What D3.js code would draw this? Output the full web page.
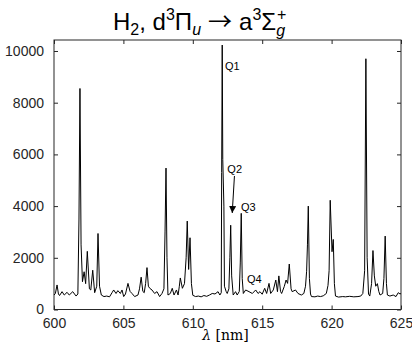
<!DOCTYPE html>
<html>
<head>
<meta charset="utf-8">
<script src="https://cdn.jsdelivr.net/npm/d3@7"></script>
<style>
  body { margin: 0; background: #fff; }
  svg { font-family: "Liberation Sans", Arial, sans-serif; }
</style>
</head>
<body>
<div id="chart"></div>
<script>
// spectrum: wavelength [nm] and intensity
const lambda = [
  600.00, 600.10, 600.22, 600.32, 600.40, 600.58, 600.74, 600.94, 601.10, 601.35,
  601.59, 601.72, 601.80, 601.87, 601.95, 602.05, 602.17, 602.28, 602.40, 602.55,
  602.65, 602.79, 602.93, 603.08, 603.17, 603.28, 603.41, 603.60, 603.80, 604.00,
  604.18, 604.30, 604.47, 604.60, 604.78, 604.90, 605.02, 605.15, 605.33, 605.48,
  605.62, 605.81, 606.05, 606.16, 606.28, 606.40, 606.50, 606.60, 606.70, 606.80,
  606.90, 607.06, 607.25, 607.42, 607.61, 607.78, 607.92, 608.00, 608.07, 608.14,
  608.21, 608.38, 608.52, 608.65, 608.82, 608.94, 609.03, 609.10, 609.25, 609.40,
  609.52, 609.60, 609.70, 609.80, 609.90, 610.00, 610.20, 610.40, 610.60, 610.80,
  611.00, 611.20, 611.40, 611.60, 611.82, 611.95, 612.05, 612.08, 612.12, 612.16,
  612.24, 612.28, 612.40, 612.48, 612.60, 612.67, 612.73, 612.80, 612.91, 613.08,
  613.20, 613.35, 613.42, 613.49, 613.56, 613.64, 613.81, 614.05, 614.29, 614.53,
  614.70, 614.84, 615.00, 615.18, 615.32, 615.49, 615.61, 615.80, 615.98, 616.10,
  616.20, 616.32, 616.40, 616.59, 616.72, 616.83, 616.95, 617.08, 617.16, 617.40,
  617.58, 617.82, 618.00, 618.12, 618.20, 618.26, 618.32, 618.40, 618.48, 618.55,
  618.80, 619.00, 619.20, 619.40, 619.62, 619.74, 619.82, 619.90, 620.03, 620.12,
  620.20, 620.28, 620.50, 620.80, 621.00, 621.30, 621.60, 621.90, 622.10, 622.25,
  622.38, 622.47, 622.56, 622.66, 622.75, 622.88, 622.98, 623.08, 623.18, 623.30,
  623.40, 623.49, 623.68, 623.77, 623.86, 623.95, 624.02, 624.20, 624.44, 624.64,
  624.80, 624.93, 625.00
];
const intensity = [
  560, 620, 950, 600, 540, 690, 560, 665, 560, 690,
  520, 600, 3500, 8550, 2500, 1075, 1460, 1000, 2250, 800,
  755, 1520, 650, 900, 2940, 900, 560, 500, 520, 490,
  650, 755, 620, 730, 620, 755, 500, 600, 1010, 700,
  620, 500, 560, 800, 1250, 700, 650, 1000, 1620, 900,
  820, 755, 620, 690, 500, 620, 800, 3000, 5470, 2000,
  560, 620, 820, 560, 755, 560, 900, 1220, 820, 1000,
  2000, 3420, 1550, 2775, 1000, 550, 500, 520, 490, 540,
  510, 560, 620, 600, 690, 560, 650, 5300, 10230, 5800,
  4000, 900, 700, 620, 800, 2000, 3260, 1300, 560, 690,
  560, 700, 1800, 3720, 1200, 620, 755, 690, 620, 755,
  620, 690, 590, 820, 620, 1010, 620, 755, 1140, 690,
  1300, 700, 620, 890, 1140, 1010, 1760, 800, 690, 755,
  620, 560, 620, 900, 1480, 2500, 4000, 1200, 600, 500,
  490, 520, 500, 530, 620, 930, 1500, 4225, 2235, 2710,
  1000, 520, 480, 500, 490, 510, 490, 500, 520, 620,
  1500, 9700, 2000, 600, 520, 1000, 2280, 1300, 900, 1000,
  700, 560, 620, 1200, 2840, 1000, 560, 520, 560, 500,
  650, 600, 620
];
const xTicks = [600, 605, 610, 615, 620, 625];
const yTicks = [0, 2000, 4000, 6000, 8000, 10000];
const labels = ["Q1", "Q2", "Q3", "Q4"];
const labelX = [612.32, 612.49, 613.47, 613.90];
const labelY = [9265, 5280, 3810, 1025];
const arrowFrom = [613.00, 5165];
const arrowTo = [612.84, 3733];

const width = 412, height = 348;
const margin = { top: 40, right: 11, bottom: 38.5, left: 54 };
const w = width - margin.left - margin.right;
const h = height - margin.top - margin.bottom;
const axisColor = "#262626";

const svg = d3.select("#chart").append("svg")
  .attr("width", width).attr("height", height);

const x = d3.scaleLinear().domain([600, 625]).range([0, w]);
const y = d3.scaleLinear().domain([0, 10425]).range([h, 0]);

const g = svg.append("g").attr("transform", `translate(${margin.left},${margin.top})`);

// axes: ticks inward, mirrored on top and right
function styleAxis(sel) {
  sel.select(".domain").remove();
  sel.selectAll(".tick line").attr("stroke", axisColor);
  sel.selectAll(".tick text").attr("fill", axisColor).style("font-size", "14px");
}
g.append("g").attr("transform", `translate(0,${h})`)
  .call(d3.axisBottom(x).tickValues(xTicks).tickSizeInner(-4).tickSizeOuter(0).tickPadding(9))
  .call(styleAxis);
g.append("g")
  .call(d3.axisTop(x).tickValues(xTicks).tickSizeInner(-4).tickSizeOuter(0).tickFormat(""))
  .call(styleAxis);
g.append("g")
  .call(d3.axisLeft(y).tickValues(yTicks).tickSizeInner(-4).tickSizeOuter(0).tickPadding(10)
    .tickFormat(d3.format("d")))
  .call(styleAxis);
g.append("g").attr("transform", `translate(${w},0)`)
  .call(d3.axisRight(y).tickValues(yTicks).tickSizeInner(-4).tickSizeOuter(0).tickFormat(""))
  .call(styleAxis);

g.append("rect").attr("width", w).attr("height", h)
  .attr("fill", "none").attr("stroke", axisColor).attr("stroke-width", 1);

// spectrum
const line = d3.line().x((d, i) => x(lambda[i])).y(d => y(d));
g.append("path").datum(intensity)
  .attr("d", line)
  .attr("fill", "none").attr("stroke", "#000").attr("stroke-width", 1);

// labels of the Q lines
g.selectAll(".qlab").data(labels).enter().append("text")
  .attr("class", "qlab")
  .attr("x", (d, i) => x(labelX[i]))
  .attr("y", (d, i) => y(labelY[i]))
  .style("font-size", "11px")
  .attr("fill", "#000")
  .text(d => d);

svg.append("defs").append("marker")
  .attr("id", "head").attr("viewBox", "0 0 10 10")
  .attr("refX", 10).attr("refY", 5)
  .attr("markerWidth", 7).attr("markerHeight", 7)
  .attr("markerUnits", "userSpaceOnUse")
  .attr("orient", "auto")
  .append("path").attr("d", "M0,0L10,5L0,10Z").attr("fill", "#000");

g.append("line")
  .attr("x1", x(arrowFrom[0])).attr("y1", y(arrowFrom[1]))
  .attr("x2", x(arrowTo[0])).attr("y2", y(arrowTo[1]))
  .attr("stroke", "#000").attr("stroke-width", 1)
  .attr("marker-end", "url(#head)");

// title
const title = svg.append("text").attr("x", 113).attr("y", 30)
  .style("font-size", "24px").attr("fill", "#000");
title.append("tspan").text("H");
title.append("tspan").attr("dy", 5).style("font-size", "16px").text("2");
title.append("tspan").attr("dy", -5).text(", d");
title.append("tspan").attr("dy", -10).style("font-size", "16px").text("3");
title.append("tspan").attr("dy", 10).text("Π");
title.append("tspan").attr("dy", 5).style("font-size", "16px").style("font-style", "italic").text("u");
title.append("tspan").attr("dy", -5).attr("dx", 7)
  .style("font-family", "'Noto Sans CJK JP', 'DejaVu Sans', sans-serif").text("→");
title.append("tspan").attr("dx", 7).text("a");
title.append("tspan").attr("dy", -10).style("font-size", "16px").text("3");
title.append("tspan").attr("dy", 10).text("Σ");
title.append("tspan").attr("dy", 6).style("font-size", "16px").style("font-style", "italic").text("g");
title.append("tspan").attr("dy", -16).attr("dx", -8).style("font-size", "16px").text("+");

// x label
const xl = svg.append("text")
  .attr("x", margin.left + w / 2 - 2).attr("y", 340)
  .attr("text-anchor", "middle")
  .style("font-family", "'DejaVu Serif', 'Liberation Serif', serif")
  .style("font-size", "14px").attr("fill", "#000");
xl.append("tspan").style("font-style", "italic").text("λ");
xl.append("tspan").text(" [nm]");
</script>
</body>
</html>
